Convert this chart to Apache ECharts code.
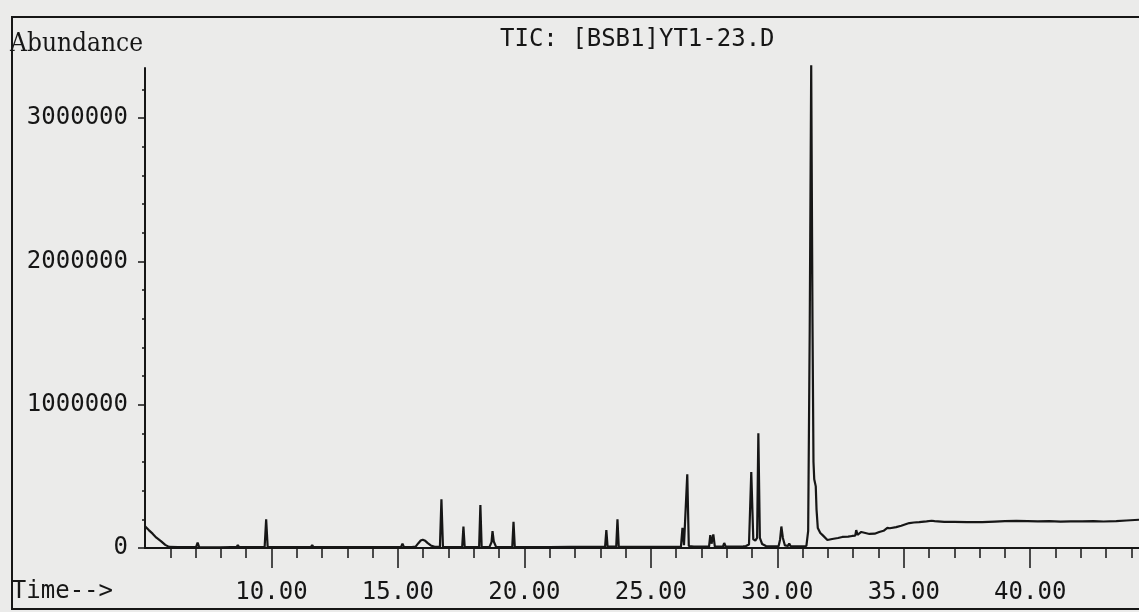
<!DOCTYPE html>
<html>
<head>
<meta charset="utf-8">
<title>TIC: [BSB1]YT1-23.D</title>
<script src="https://cdn.jsdelivr.net/npm/echarts@6/dist/echarts.min.js"></script>
<style>
  html, body { margin: 0; padding: 0; background: #ebebea; }
  #chart { width: 1139px; height: 612px; }
</style>
</head>
<body>
<div id="chart"></div>
<script>
// Total ion chromatogram: retention time (min) and abundance (counts)
const scanTimes = [
  5.00, 5.15, 5.30, 5.45, 5.63, 5.80, 5.95, 6.30, 6.70, 7.02, 7.08, 7.14,
  7.60, 7.87, 7.92, 7.97, 8.40, 8.62, 8.67, 8.72, 9.30, 9.73, 9.79, 9.85,
  10.50, 11.20, 11.56, 11.61, 11.66, 12.50, 13.40, 14.30, 15.12, 15.18, 15.24,
  15.55, 15.70, 15.80, 15.90, 15.98, 16.08, 16.18, 16.30, 16.45,
  16.66, 16.72, 16.78, 17.20, 17.54, 17.59, 17.64, 18.00, 18.21, 18.26, 18.31,
  18.62, 18.70, 18.74, 18.79, 18.88, 19.30, 19.52, 19.57, 19.62,
  20.10, 20.28, 20.32, 20.37, 21.00, 21.80, 22.60, 23.19, 23.24, 23.29,
  23.63, 23.68, 23.73, 24.40, 25.20, 25.80, 25.85, 25.90,
  26.19, 26.25, 26.31, 26.38, 26.44, 26.50, 26.70, 27.00,
  27.30, 27.35, 27.40, 27.47, 27.53, 27.85, 27.90, 27.96,
  28.40, 28.65, 28.70, 28.76, 28.88, 28.97, 29.05, 29.13, 29.20, 29.25, 29.31,
  29.40, 29.55, 29.80, 30.05, 30.11, 30.16, 30.22, 30.30, 30.42, 30.47, 30.52,
  30.70, 30.90, 31.15, 31.22, 31.28, 31.34, 31.39, 31.43, 31.46, 31.52, 31.55,
  31.60, 31.70, 31.80, 31.98, 32.17, 32.40, 32.57, 32.80, 32.96, 33.08, 33.12,
  33.17, 33.24, 33.32, 33.38, 33.64, 33.85, 34.03, 34.20, 34.35, 34.40, 34.45,
  34.70, 34.90, 35.10, 35.22, 35.40, 35.61, 35.90, 36.10, 36.15, 36.22,
  36.60, 37.00, 37.50, 38.10, 38.60, 39.00, 39.45, 39.90, 40.30, 40.75,
  41.20, 41.60, 42.05, 42.50, 42.90, 43.40, 43.80, 44.30
];
const ticAbundance = [
  151000, 125000, 100000, 72000, 48000, 22000, 8000, 6000, 6000, 6000, 38000, 6000,
  5000, 5000, 16000, 5000, 6000, 6000, 20000, 6000, 6000, 6000, 200000, 7000,
  6000, 6000, 6000, 20000, 6000, 6000, 6000, 6000, 6000, 30000, 6000,
  6000, 10000, 32000, 52000, 58000, 50000, 34000, 18000, 8000,
  8000, 340000, 8000, 7000, 7000, 150000, 7000, 7000, 7000, 300000, 7000,
  8000, 40000, 118000, 45000, 8000, 7000, 7000, 183000, 7000,
  7000, 7000, 15000, 7000, 7000, 8000, 8000, 8000, 125000, 9000,
  9000, 200000, 9000, 8000, 8000, 8000, 20000, 8000,
  10000, 140000, 20000, 20000, 515000, 14000, 9000, 9000,
  10000, 90000, 30000, 95000, 10000, 9000, 35000, 9000,
  10000, 12000, 25000, 14000, 25000, 530000, 60000, 52000, 70000, 800000, 70000,
  28000, 14000, 12000, 13000, 60000, 150000, 70000, 18000, 14000, 32000, 14000,
  12000, 12000, 14000, 120000, 1500000, 3370000, 1600000, 600000, 480000, 430000, 270000,
  140000, 105000, 88000, 56000, 63000, 70000, 77000, 80000, 84000, 86000, 125000,
  92000, 98000, 112000, 100000, 98000, 100000, 112000, 120000, 140000, 146000, 138000,
  146000, 155000, 167000, 174000, 178000, 181000, 186000, 190000, 203000, 188000,
  182000, 183000, 180000, 180000, 184000, 187000, 190000, 188000, 186000, 187000,
  184000, 186000, 186000, 188000, 185000, 188000, 192000, 197000
];

// Labelled axis positions
const timeTickLabels = [10, 15, 20, 25, 30, 35, 40];
const abundanceTickLabels = [0, 1000000, 2000000, 3000000];

const ink = '#161616';
const monoFont = '"DejaVu Sans Mono", "Liberation Mono", monospace';
const monoText = { color: ink, fontFamily: monoFont, fontSize: 24, fontWeight: 'normal' };

const chart = echarts.init(document.getElementById('chart'), null, { renderer: 'canvas' });

chart.setOption({
  animation: false,
  backgroundColor: '#ebebea',
  title: {
    text: 'TIC: [BSB1]YT1-23.D',
    left: 500,
    top: 28,
    padding: 0,
    textStyle: monoText
  },
  grid: { left: 145, right: 0, top: 68, bottom: 64, containLabel: false },
  xAxis: {
    type: 'value',
    min: 5,
    max: 44.3,
    interval: 5,
    name: 'Time-->',
    nameLocation: 'start',
    nameGap: 32,
    nameTextStyle: Object.assign({}, monoText, {
      align: 'right', verticalAlign: 'top', padding: [32, 0, 0, 0]
    }),
    axisLine: { show: true, onZero: false, lineStyle: { color: ink, width: 2 } },
    axisTick: {
      show: true, inside: false, length: 20,
      customValues: timeTickLabels,
      lineStyle: { color: ink, width: 1.5 }
    },
    minorTick: { show: true, splitNumber: 5, length: 10, lineStyle: { color: ink, width: 1.5 } },
    axisLabel: Object.assign({}, monoText, {
      customValues: timeTickLabels,
      margin: 33,
      formatter: v => v.toFixed(2)
    }),
    splitLine: { show: false },
    minorSplitLine: { show: false }
  },
  yAxis: {
    type: 'value',
    min: 0,
    max: 3350000,
    interval: 1000000,
    name: 'Abundance',
    nameLocation: 'end',
    nameGap: 24,
    nameTextStyle: {
      color: ink, fontFamily: '"DejaVu Serif Condensed", "Liberation Serif", serif', fontSize: 26,
      align: 'right', verticalAlign: 'middle', padding: [0, 2, 0, 0]
    },
    axisLine: { show: true, lineStyle: { color: ink, width: 2 } },
    axisTick: {
      show: true, inside: false, length: 7,
      customValues: abundanceTickLabels,
      lineStyle: { color: ink, width: 1.5 }
    },
    minorTick: { show: true, splitNumber: 5, length: 3, lineStyle: { color: ink, width: 1.5 } },
    axisLabel: Object.assign({}, monoText, {
      customValues: abundanceTickLabels,
      margin: 17,
      formatter: v => String(v)
    }),
    splitLine: { show: false },
    minorSplitLine: { show: false }
  },
  graphic: [{
    type: 'rect',
    silent: true,
    z: -1,
    shape: { x: 12, y: 17, width: 1200, height: 592 },
    style: { fill: 'none', stroke: ink, lineWidth: 2 }
  }],
  series: [{
    type: 'line',
    data: scanTimes.map((t, i) => [t, ticAbundance[i]]),
    showSymbol: false,
    symbol: 'none',
    clip: false,
    lineStyle: { color: ink, width: 2.2 },
    emphasis: { disabled: true }
  }]
});
</script>
</body>
</html>
